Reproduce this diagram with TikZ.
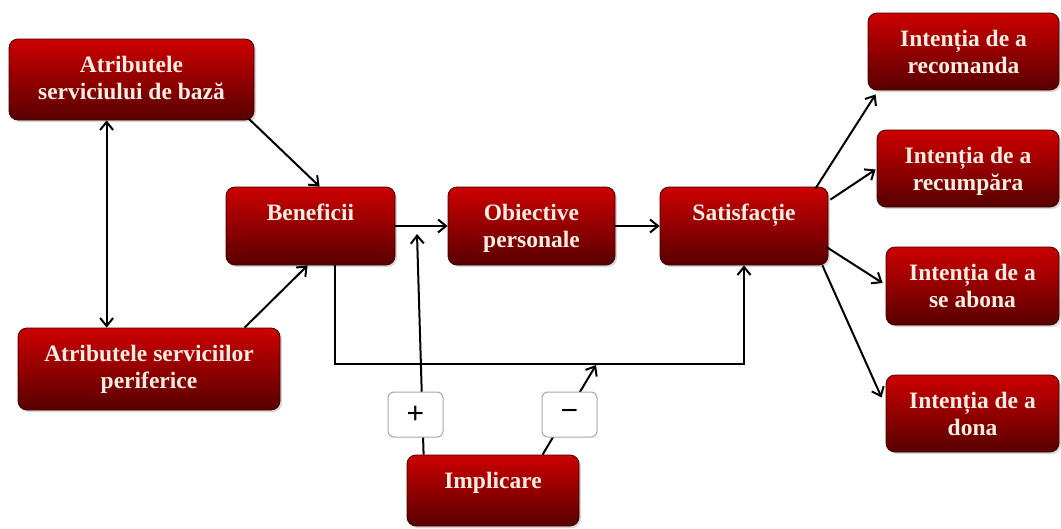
\documentclass[tikz,border=0pt]{standalone}
\usepackage{fontspec}
\setmainfont{Liberation Serif}
\newfontfamily\signfont{Liberation Sans}
\usetikzlibrary{arrows.meta,calc,shadows}
\definecolor{boxtop}{RGB}{205,0,0}
\definecolor{boxbot}{RGB}{88,0,0}
\definecolor{boxtxt}{RGB}{250,238,228}
\newcommand{\bxt}[3]{\parbox[c][#2pt][t]{#1pt}{\centering\fontsize{23.5}{27}\selectfont\bfseries\rule{0pt}{33pt}#3\par}}
\newcommand{\sgn}[1]{{\signfont\fontsize{30}{32}\selectfont #1}}
\tikzset{
  box/.style={rounded corners=9pt, draw=boxbot!70!black, line width=0.8pt,
    top color=boxtop, bottom color=boxbot, inner sep=0pt, text=boxtxt,
    drop shadow={shadow xshift=2pt, shadow yshift=-2pt, opacity=0.3}},
  signbox/.style={draw=gray!70, line width=1pt, fill=white, rounded corners=6pt,
    minimum width=55pt, minimum height=45pt, inner sep=0pt},
  conn/.style={line width=2pt, black},
  >={Straight Barb[length=8pt,width=13pt]}
}
\begin{document}
\begin{tikzpicture}[x=1pt,y=-1pt]
\useasboundingbox (0,0) rectangle (1061,528);
\fill[white] (0,0) rectangle (1061,528);
% main boxes
\node[box] (a1)  at (131.5,79.5) {\bxt{245}{81}{Atributele\\serviciului de bază}};
\node[box] (a2)  at (149,369)    {\bxt{262}{82}{Atributele serviciilor\\periferice}};
\node[box] (ben) at (310.5,226)  {\bxt{169}{78}{Beneficii}};
\node[box] (obj) at (531.5,226)  {\bxt{167}{78}{Obiective\\personale}};
\node[box] (sat) at (744,226)    {\bxt{168}{78}{Satisfacție}};
\node[box] (impl) at (493,490.5) {\bxt{172}{71}{Implicare}};
\node[box] (rec) at (963.5,51.5) {\bxt{191}{77}{Intenția de a\\recomanda}};
\node[box] (rcp) at (968,168.5)  {\bxt{182}{77}{Intenția de a\\recumpăra}};
\node[box] (abo) at (972.5,286)  {\bxt{173}{78}{Intenția de a\\se abona}};
\node[box] (don) at (972.5,413.5){\bxt{173}{77}{Intenția de a\\dona}};
% coordinates
\coordinate (j1) at (335,364);
\coordinate (ptip) at (417,234);
\coordinate (mtip) at (596,365);
% connectors
\draw[conn,<->] ($(a1.south west)+(98,0)$) -- ($(a2.north west)+(89,0)$);
\draw[conn,->] ($(a1.south east)+(-6,-2)$) -- ($(ben.north west)+(94,0)$);
\draw[conn,->] ($(a2.north west)+(227,0)$) -- ($(ben.south west)+(82,0)$);
\draw[conn,->] (ben.east) -- (obj.west);
\draw[conn,->] (obj.east) -- (sat.west);
\draw[conn,->] (ben.south -| j1) -- (j1) -| (sat.south);
\draw[conn,->] ($(impl.north west)+(17,0)$) -- (ptip);
\draw[conn,->] ($(impl.north west)+(136,0)$) -- (mtip);
\draw[conn,->] ($(sat.north east)+(-13,2)$) -- ($(rec.south west)+(8,4)$);
\draw[conn,->] ($(sat.north east)+(2,13)$) -- ($(rcp.west)+(-1,1)$);
\draw[conn,->] ($(sat.east)+(-2,21)$) -- ($(abo.west)+(-3,-3)$);
\draw[conn,->] ($(sat.south east)+(-6,0)$) -- ($(don.west)+(-4,-16)$);
% signs
\node[signbox] (plus) at (415.5,414.5) {\sgn{+}};
\node[signbox] (minus) at (569.5,414.5) {\sgn{−}};
\end{tikzpicture}
\end{document}
